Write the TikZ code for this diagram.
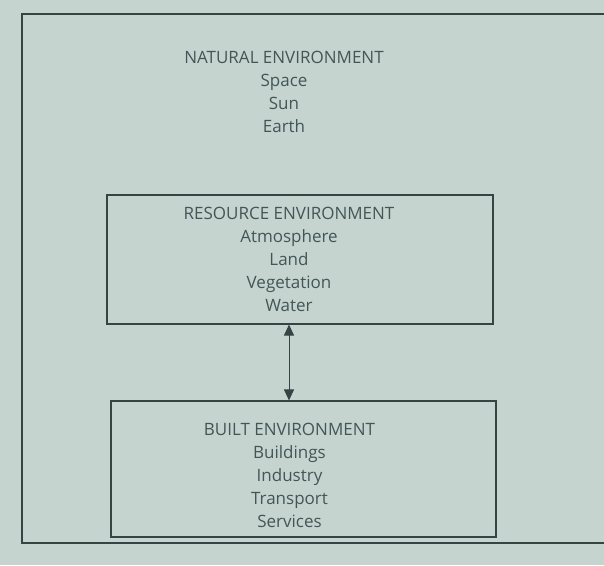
\documentclass[tikz,border=0pt]{standalone}
\usepackage{fontspec}
\setmainfont{Open Sans}
\usepackage{xcolor}
\usepackage{tikz}
\usetikzlibrary{
	arrows.meta,                % For Triangle tips
	positioning                 % For relative placement
}
\definecolor{pagebg}{RGB}{198,212,208}
\definecolor{inkline}{RGB}{55,68,68}
\definecolor{inktext}{RGB}{66,86,86}
\tikzset{
	envbox/.style={
		draw=inkline,
		line width=1.1pt,
		inner sep=0pt
	},
	envtext/.style={
		align=center,
		text=inktext,
		inner sep=0pt
	},
	link/.style={
		{Triangle[length=11pt,width=10pt]}-{Triangle[length=11pt,width=10pt]},
		draw=inkline,
		line width=1pt
	}
}

\begin{document}
\begin{tikzpicture}[x=1pt, y=-1pt, font=\fontsize{17}{23}\selectfont]
		% Page and frame
		\useasboundingbox[fill=pagebg] (0,0) rectangle (604,565);
		\node [envbox, minimum width=583pt, minimum height=529pt] (frame) at (313.5,278.5) {};
		
		% Outer level: Natural environment
		\node [envtext] (natural) at (284,92) {NATURAL ENVIRONMENT\\Space\\Sun\\Earth};
		
		% Inner levels
		\node [envbox, minimum width=386pt, minimum height=129pt] (resource) at (300,259.5) {};
		\node [envtext] (resourcetext) at ([xshift=-11pt]resource.center)
			{RESOURCE ENVIRONMENT\\Atmosphere\\Land\\Vegetation\\Water};
		\node [envbox, minimum width=385pt, minimum height=136pt] (built) at (303.5,469) {};
		\node [envtext] (builttext) at ([xshift=-14pt, yshift=-6pt]built.center)
			{BUILT ENVIRONMENT\\Buildings\\Industry\\Transport\\Services};
		
		% Two-way link
		\draw [link] (resource.south -| 289,0) -- (built.north -| 289,0);
	\end{tikzpicture}
\end{document}
